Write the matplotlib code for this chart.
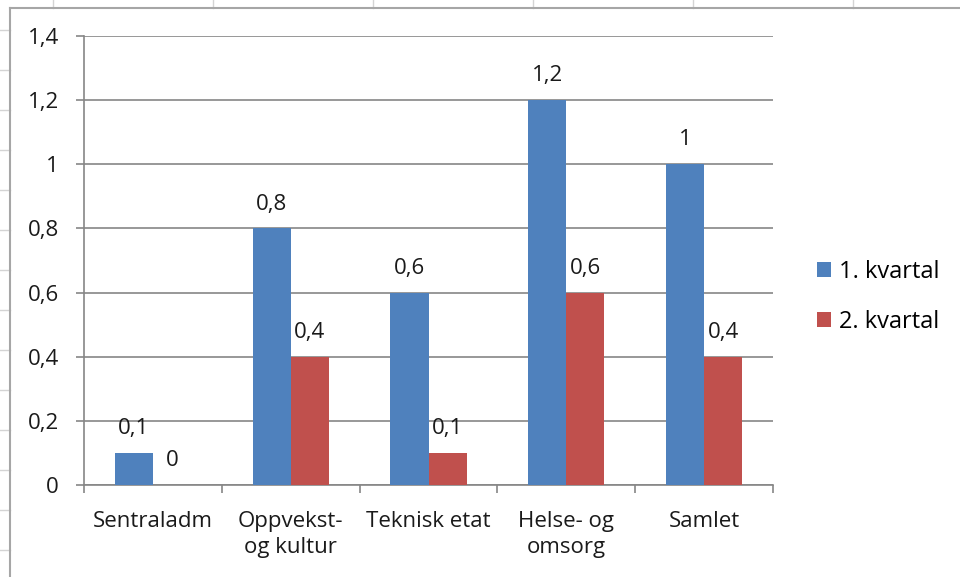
import matplotlib
matplotlib.use('Agg')
import matplotlib.pyplot as plt
import numpy as np
from matplotlib.lines import Line2D

categories = ['Sentraladm', 'Oppvekst-\nog kultur', 'Teknisk etat', 'Helse- og\nomsorg', 'Samlet']
kv1 = [0.1, 0.8, 0.6, 1.2, 1.0]
kv2 = [0.0, 0.4, 0.1, 0.6, 0.4]
series_names = ['1. kvartal', '2. kvartal']
y_ticks = [0, 0.2, 0.4, 0.6, 0.8, 1.0, 1.2, 1.4]


def fmt(v):
    # norwegian decimal comma, drop trailing zeros
    s = ('%.1f' % v).rstrip('0').rstrip('.')
    return s.replace('.', ',')


plt.rcParams['font.family'] = ['Open Sans', 'DejaVu Sans']
fs = 16
blue = '#4F81BD'
red = '#C0504D'
grid_col = '#868686'
txt = '#1a1a1a'

fig = plt.figure(figsize=(9.6, 5.77), dpi=100, facecolor='w')

# spreadsheet background: cell lines peeking out + chart border
for x in [53, 213, 373, 533, 693, 853]:
    fig.add_artist(Line2D([x / 960, x / 960], [1, 1 - 8 / 577], color='#d4d4d4', lw=1))
for y in range(30, 577, 40):
    fig.add_artist(Line2D([0, 10 / 960], [1 - y / 577, 1 - y / 577], color='#d4d4d4', lw=1))
fig.add_artist(Line2D([10 / 960, 1], [1 - 8 / 577, 1 - 8 / 577], color='#a6a6a6', lw=1.5))
fig.add_artist(Line2D([10 / 960, 10 / 960], [0, 1 - 8 / 577], color='#a6a6a6', lw=1.5))

ax = fig.add_axes([84 / 960, 1 - 485 / 577, (773 - 84) / 960, (485 - 36) / 577])

x = np.arange(len(categories))
w = 0.276
b1 = ax.bar(x - w / 2, kv1, w, color=blue, label=series_names[0], zorder=3)
b2 = ax.bar(x + w / 2, kv2, w, color=red, label=series_names[1], zorder=3)

for bars, vals in [(b1, kv1), (b2, kv2)]:
    for r, v in zip(bars, vals):
        ax.annotate(fmt(v), (r.get_x() + r.get_width() / 2, v), xytext=(0, 10),
                    textcoords='offset points', ha='center', va='bottom', fontsize=fs, color=txt)

ax.set_xlim(-0.5, len(categories) - 0.5)
ax.set_ylim(0, 1.4)
ax.set_yticks(y_ticks)
ax.set_yticklabels([fmt(v) for v in y_ticks], fontsize=fs, color=txt)
ax.yaxis.grid(True, color=grid_col, lw=1.2, zorder=0)
ax.set_axisbelow(True)

# categories between tick marks
ax.set_xticks(np.arange(len(categories) + 1) - 0.5)
ax.set_xticklabels([])
ax.set_xticks(x, minor=True)
ax.set_xticklabels(categories, minor=True, fontsize=fs, color=txt, linespacing=1.3)
ax.tick_params(axis='x', which='minor', length=0, pad=19)
ax.tick_params(axis='x', which='major', length=6, color=grid_col, width=1.2)
ax.tick_params(axis='y', length=6, color=grid_col, width=1.2, pad=12)

for s in ['top', 'right']:
    ax.spines[s].set_visible(False)
for s in ['left', 'bottom']:
    ax.spines[s].set_color(grid_col)
    ax.spines[s].set_linewidth(1.2)

leg = ax.legend(loc='center left', bbox_to_anchor=(1.033, 0.419), frameon=False, fontsize=fs + 1,
                handlelength=0.6, handleheight=0.6, handletextpad=0.35, labelspacing=1.1)

fig.savefig('out.png', dpi=100, facecolor='w')
